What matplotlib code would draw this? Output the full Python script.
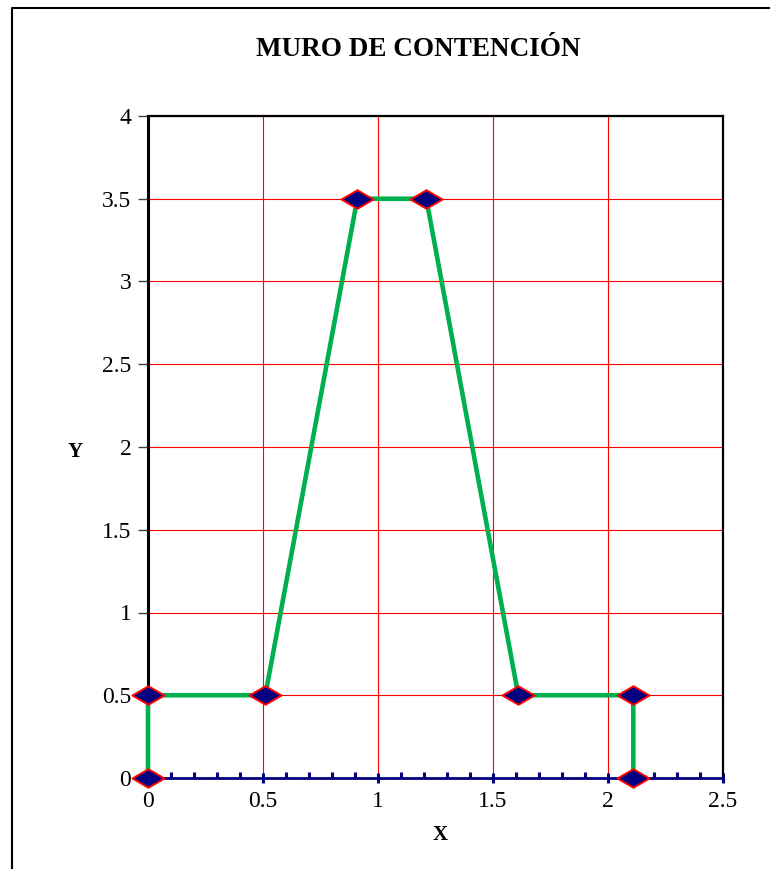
import matplotlib
matplotlib.use("Agg")
import matplotlib.pyplot as plt
import numpy as np
from matplotlib.lines import Line2D
from matplotlib.path import Path
from matplotlib.ticker import MultipleLocator

# wall profile (x, y)
wall_x = [0, 0, 0.51, 0.91, 1.21, 1.61, 2.11, 2.11]
wall_y = [0, 0.5, 0.5, 3.5, 3.5, 0.5, 0.5, 0]

x_ticks = [0, 0.5, 1, 1.5, 2, 2.5]
x_labels = ["0", "0.5", "1", "1.5", "2", "2.5"]
y_ticks = [0, 0.5, 1, 1.5, 2, 2.5, 3, 3.5, 4]
y_labels = ["0", "0.5", "1", "1.5", "2", "2.5", "3", "3.5", "4"]

TITLE = "MURO DE CONTENCIÓN"

plt.rcParams["font.family"] = ["Liberation Serif", "DejaVu Serif"]

W, H = 770, 869
fig = plt.figure(figsize=(W / 100, H / 100), dpi=100)
ax = fig.add_axes([148 / W, 1 - 778 / H, (723 - 148) / W, (778 - 116) / H])

# squashed diamond marker
diamond = Path([(-1, 0), (0, 0.58), (1, 0), (0, -0.58), (-1, 0)],
               [Path.MOVETO, Path.LINETO, Path.LINETO, Path.LINETO, Path.CLOSEPOLY])

ax.plot(wall_x, wall_y, color="#00B050", linewidth=3.3, zorder=3,
        marker=diamond, markersize=23, markerfacecolor="#000080",
        markeredgecolor="#FF0000", markeredgewidth=1.4, clip_on=False)

ax.set_xlim(0, 2.5)
ax.set_ylim(0, 4)
ax.set_xticks(x_ticks)
ax.set_xticklabels(x_labels)
ax.set_yticks(y_ticks)
ax.set_yticklabels(y_labels)
ax.xaxis.set_minor_locator(MultipleLocator(0.1))

ax.grid(True, which="major", color="#FF0000", linewidth=0.8, zorder=1)
ax.set_axisbelow(True)

for side in ("top", "right"):
    ax.spines[side].set_color("black")
    ax.spines[side].set_linewidth(1.6)
ax.spines["left"].set_color("black")
ax.spines["left"].set_linewidth(2.2)
ax.spines["bottom"].set_color("#000080")
ax.spines["bottom"].set_linewidth(2.0)

ax.tick_params(axis="x", which="major", direction="inout", length=7, width=2.2,
               color="#000080", labelsize=17, pad=6)
ax.tick_params(axis="x", which="minor", direction="in", length=4, width=2.2,
               color="#000080")
ax.tick_params(axis="y", which="major", direction="out", length=7, width=1,
               color="#404040", labelsize=17, pad=5)

fig.text(418 / W, 1 - 50 / H, TITLE, ha="center", va="center",
         fontsize=19.5, fontweight="bold")
fig.text(75 / W, 1 - 452 / H, "Y", ha="center", va="center",
         fontsize=15, fontweight="bold")
fig.text(440 / W, 1 - 835 / H, "X", ha="center", va="center",
         fontsize=15, fontweight="bold")

# outer chart border (left and top edges visible)
bx, by = 12 / W, 1 - 8 / H
fig.add_artist(Line2D([bx, bx, 1], [0, by, by], transform=fig.transFigure,
                      color="black", linewidth=1.5))

fig.savefig("out.png", dpi=100)
